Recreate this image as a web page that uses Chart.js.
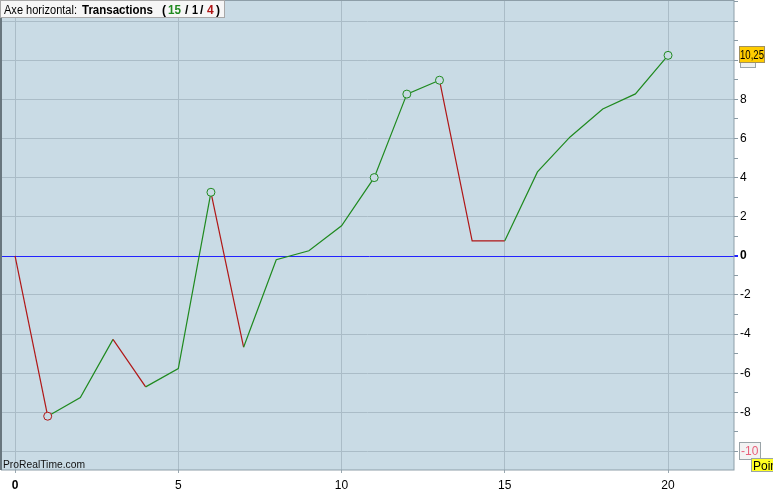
<!DOCTYPE html>
<html>
<head>
<meta charset="utf-8">
<script src="https://cdn.jsdelivr.net/npm/chart.js@4.4.1/dist/chart.umd.min.js"></script>
<style>
html, body { margin: 0; padding: 0; background: #fff; }
canvas { display: block; }
</style>
</head>
<body>
<canvas id="myChart" width="773" height="490"></canvas>
<script>
// trade index on x, cumulative points on y
const xValues = [0, 1, 2, 3, 4, 5, 6, 7, 8, 9, 10, 11, 12, 13, 14, 15, 16, 17, 18, 19, 20];
const yValues = [0, -8.2, -7.25, -4.27, -6.7, -5.76, 3.25, -4.67, -0.2, 0.26, 1.54, 4.0, 8.27, 8.98, 0.77, 0.77, 4.29, 6.08, 7.51, 8.28, 10.25];
const markedPoints = [1, 6, 11, 12, 13, 20];
const xTickValues = [0, 5, 10, 15, 20];
const yTickLabels = [-8, -6, -4, -2, 0, 2, 4, 6, 8];
const lastValueLabel = '10,25';
const lowLabel = '-10';
const legendCounts = [15, 1, 4];

const green = '#1f8a1f';
const red = '#b01616';
const blue = '#2222ff';
const plotBg = '#c9dbe5';
const gridColor = '#aabcc7';
const fontFamily = '"Liberation Sans", Arial, sans-serif';

const points = xValues.map((x, i) => ({ x: x, y: yValues[i] }));

const markerColor = (i) => (i > 0 && yValues[i] > yValues[i - 1]) ? green : red;

const chartDecor = {
    id: 'chartDecor',
    beforeDraw(chart) {
        const ctx = chart.ctx;
        const a = chart.chartArea;
        ctx.save();
        ctx.fillStyle = '#fff';
        ctx.fillRect(0, 0, chart.width, chart.height);
        ctx.fillStyle = plotBg;
        ctx.fillRect(a.left, a.top, a.right - a.left, a.bottom - a.top);
        ctx.restore();
    },
    beforeDatasetsDraw(chart) {
        // zero line
        const ctx = chart.ctx;
        const a = chart.chartArea;
        const y0 = Math.round(chart.scales.y.getPixelForValue(0)) + 0.5;
        ctx.save();
        ctx.strokeStyle = blue;
        ctx.lineWidth = 1;
        ctx.beginPath();
        ctx.moveTo(a.left, y0);
        ctx.lineTo(a.right + 4, y0);
        ctx.stroke();
        ctx.restore();
    },
    afterDraw(chart) {
        const ctx = chart.ctx;
        const a = chart.chartArea;
        const yScale = chart.scales.y;
        ctx.save();

        // frame
        ctx.strokeStyle = '#8d9ea8';
        ctx.lineWidth = 1;
        ctx.strokeRect(a.left + 0.5, a.top - 0.5, a.right - a.left - 0.5, a.bottom - a.top + 0.5);
        ctx.strokeStyle = '#68767e';
        ctx.lineWidth = 2;
        ctx.beginPath();
        ctx.moveTo(a.left, a.top);
        ctx.lineTo(a.left, a.bottom);
        ctx.stroke();

        // legend box
        ctx.fillStyle = '#f6f6f6';
        ctx.fillRect(0, 0, 225, 18);
        ctx.strokeStyle = '#a8a8a8';
        ctx.lineWidth = 1;
        ctx.strokeRect(0.5, 0.5, 224, 17);
        const pieces = [
            ['Axe horizontal:', 4, false, '#000', 73],
            ['Transactions', 82, true, '#000', 71],
            ['(', 162, true, '#000', 5],
            [String(legendCounts[0]), 168, true, green, 13],
            ['/', 185, true, '#000', 5],
            [String(legendCounts[1]), 192, true, '#000', 6],
            ['/', 200, true, '#000', 5],
            [String(legendCounts[2]), 207, true, red, 7],
            [')', 216, true, '#000', 5]
        ];
        ctx.textBaseline = 'alphabetic';
        ctx.textAlign = 'left';
        pieces.forEach(p => {
            ctx.font = (p[2] ? 'bold ' : '') + '12px ' + fontFamily;
            ctx.fillStyle = p[3];
            ctx.fillText(p[0], p[1], 14, p[4]);
        });

        // watermark
        ctx.font = '11px ' + fontFamily;
        ctx.fillStyle = '#111';
        ctx.fillText('ProRealTime.com', 3, 468, 82);

        ctx.font = '12px ' + fontFamily;

        // hidden "10" label box
        const y10 = Math.round(yScale.getPixelForValue(10));
        ctx.fillStyle = '#eef0ee';
        ctx.fillRect(740, y10 - 8, 16, 16);
        ctx.strokeStyle = '#9aa4a8';
        ctx.strokeRect(740.5, y10 - 7.5, 15, 15);

        // last value box
        const yLast = Math.round(yScale.getPixelForValue(yValues[yValues.length - 1]));
        ctx.fillStyle = '#ffcc00';
        ctx.fillRect(739, yLast - 9, 26, 17);
        ctx.strokeStyle = '#a09060';
        ctx.strokeRect(739.5, yLast - 8.5, 25, 16);
        ctx.fillStyle = '#000';
        ctx.fillText(lastValueLabel, 740, yLast + 4, 24);

        // -10 box
        const yLow = Math.round(yScale.getPixelForValue(-10));
        ctx.fillStyle = '#f3f3f3';
        ctx.fillRect(739, yLow - 9, 22, 18);
        ctx.strokeStyle = '#9aa4a8';
        ctx.strokeRect(739.5, yLow - 8.5, 21, 17);
        ctx.fillStyle = '#e8607a';
        ctx.fillText(lowLabel, 741, yLow + 4);

        // "Point" box
        ctx.fillStyle = '#ffff22';
        ctx.fillRect(751, 459, 24, 13);
        ctx.strokeStyle = '#9aa4a8';
        ctx.strokeRect(751.5, 458.5, 24, 13);
        ctx.fillStyle = '#000';
        ctx.fillText('Point', 753, 470);

        ctx.restore();
    }
};

const chartContext = document.getElementById('myChart').getContext('2d');
const myChart = new Chart(chartContext, {
    type: 'line',
    data: {
        datasets: [{
            data: points,
            borderWidth: 1.2,
            borderColor: green,
            tension: 0,
            fill: false,
            segment: {
                borderColor: c => c.p1.parsed.y > c.p0.parsed.y ? green : red
            },
            pointRadius: xValues.map((x, i) => markedPoints.includes(i) ? 4 : 0),
            pointHoverRadius: 0,
            pointBorderWidth: 1,
            pointBackgroundColor: plotBg,
            pointBorderColor: xValues.map((x, i) => markerColor(i))
        }]
    },
    options: {
        responsive: false,
        animation: false,
        devicePixelRatio: 1,
        layout: { autoPadding: false, padding: { left: 1, top: 1, right: 0, bottom: 0 } },
        plugins: {
            legend: { display: false },
            tooltip: { enabled: false }
        },
        scales: {
            x: {
                type: 'linear',
                position: 'bottom',
                min: -0.43,
                max: 22.02,
                afterFit: s => {
                    s.height = 20;
                    s.paddingLeft = 0;
                    s.paddingRight = 0;
                },
                afterBuildTicks: s => { s.ticks = xTickValues.map(v => ({ value: v })); },
                border: { display: false },
                grid: { color: gridColor, tickLength: 3, tickColor: '#9aa8b0' },
                ticks: {
                    autoSkip: false,
                    maxRotation: 0,
                    padding: 5,
                    color: '#000',
                    callback: v => String(v),
                    font: c => ({ family: fontFamily, size: 12, weight: c.tick && c.tick.value === 0 ? 'bold' : 'normal' })
                }
            },
            y: {
                type: 'linear',
                position: 'right',
                min: -10.95,
                max: 13.03,
                afterFit: s => {
                    s.width = 39;
                    s.paddingTop = 0;
                    s.paddingBottom = 0;
                },
                border: { display: false },
                grid: {
                    color: c => {
                        const v = c.tick ? c.tick.value : 1;
                        if (v === 0) return 'rgba(0,0,0,0)';
                        return Math.abs(v % 2) === 0 ? gridColor : 'rgba(0,0,0,0)';
                    },
                    tickColor: c => (c.tick && c.tick.value === 0) ? blue : '#8a9aa4',
                    tickLength: 4
                },
                ticks: {
                    stepSize: 1,
                    includeBounds: false,
                    autoSkip: false,
                    padding: 2,
                    color: '#000',
                    callback: v => yTickLabels.includes(v) ? String(v) : '',
                    font: c => ({ family: fontFamily, size: 12, weight: c.tick && c.tick.value === 0 ? 'bold' : 'normal' })
                }
            }
        }
    },
    plugins: [chartDecor]
});
</script>
</body>
</html>
